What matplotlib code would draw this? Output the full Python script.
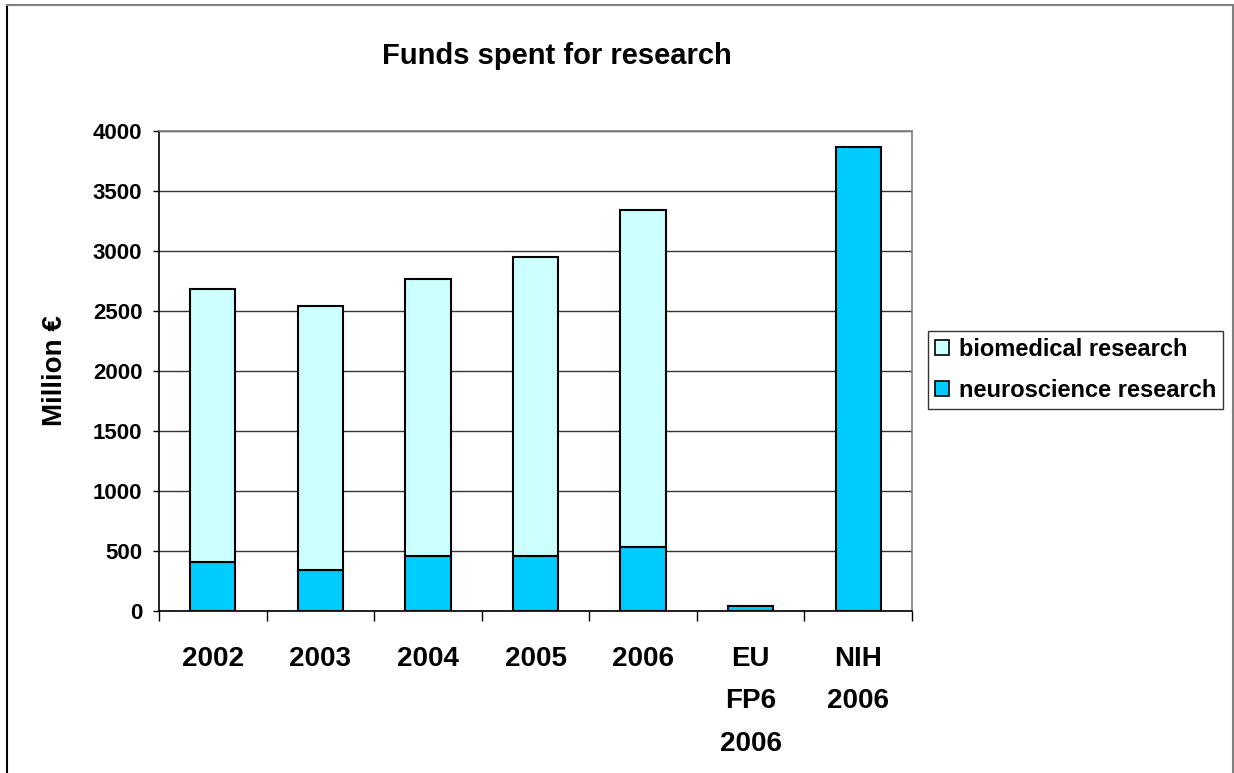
import matplotlib
matplotlib.use("Agg")
import matplotlib.pyplot as plt
from matplotlib.lines import Line2D
from matplotlib.patches import Patch

# Funding figures (million EUR)
categories = ["2002", "2003", "2004", "2005", "2006", "EU\nFP6\n2006", "NIH\n2006"]
neuroscience = [410, 345, 455, 455, 530, 45, 3865]
biomedical = [2270, 2195, 2315, 2495, 2815, 0, 0]

plt.rcParams["font.family"] = ["Liberation Sans", "DejaVu Sans"]
plt.rcParams["font.weight"] = "bold"

W, H = 1234, 773
fig = plt.figure(figsize=(W / 100, H / 100), dpi=100)
ax = fig.add_axes([159 / W, 1 - 611 / H, (912 - 159) / W, (611 - 131) / H])

light = "#CCFFFF"
dark = "#00CCFF"
x = list(range(len(categories)))
bw = 0.42

ax.bar(x, neuroscience, width=bw, color=dark, edgecolor="black", linewidth=1.5, zorder=3)
ax.bar([i for i, b in zip(x, biomedical) if b > 0],
       [b for b in biomedical if b > 0],
       bottom=[n for n, b in zip(neuroscience, biomedical) if b > 0],
       width=bw, color=light, edgecolor="black", linewidth=1.5, zorder=3)

ax.set_xlim(-0.5, len(categories) - 0.5)
ax.set_ylim(0, 4000)
ax.set_yticks(range(0, 4001, 500))
ax.yaxis.grid(True, color="#333333", linewidth=1.0, zorder=0)
ax.set_axisbelow(True)

# category labels centred, tick marks at the boundaries
ax.set_xticks(x)
ax.set_xticklabels(categories, fontsize=20, fontweight="bold", linespacing=1.83, va="top")
ax.tick_params(axis="x", which="major", length=0, pad=25)
ax.set_xticks([i - 0.5 for i in range(len(categories) + 1)], minor=True)
ax.tick_params(axis="x", which="minor", length=7, width=1.0, color="black", direction="out")
ax.tick_params(axis="y", length=4, width=1.0, color="black", direction="out", pad=8, labelsize=16)
for lbl in ax.get_yticklabels():
    lbl.set_fontweight("bold")

for side in ("top", "right"):
    ax.spines[side].set_color("#808080")
    ax.spines[side].set_linewidth(1.2)
for side in ("left", "bottom"):
    ax.spines[side].set_color("black")
    ax.spines[side].set_linewidth(1.2)

ax.set_ylabel("Million €", fontsize=20, fontweight="bold")
ax.yaxis.set_label_coords((68 - 159) / (912 - 159), 0.5)

fig.text(557 / W, 1 - 56 / H, "Funds spent for research", ha="center", va="center",
         fontsize=21, fontweight="bold")

handles = [Patch(facecolor=light, edgecolor="black", linewidth=1.2),
           Patch(facecolor=dark, edgecolor="black", linewidth=1.2)]
leg = fig.legend(handles, ["biomedical research", "neuroscience research"],
                 loc="center left", bbox_to_anchor=(928 / W, 1 - 370 / H),
                 prop={"size": 17, "weight": "bold"}, frameon=True, fancybox=False,
                 edgecolor="black", handlelength=0.6, handleheight=0.6,
                 handletextpad=0.4, borderpad=0.3, labelspacing=0.75, borderaxespad=0)
leg.get_frame().set_linewidth(1.0)

# outer chart-area border
fig.add_artist(Line2D([7 / W, 7 / W], [0, 1 - 5 / H], color="black", linewidth=1.5))
fig.add_artist(Line2D([7 / W, 1233 / W], [1 - 5 / H, 1 - 5 / H], color="#808080", linewidth=1.5))
fig.add_artist(Line2D([1233 / W, 1233 / W], [0, 1 - 5 / H], color="#808080", linewidth=1.5))

fig.savefig("out.png", dpi=100)
